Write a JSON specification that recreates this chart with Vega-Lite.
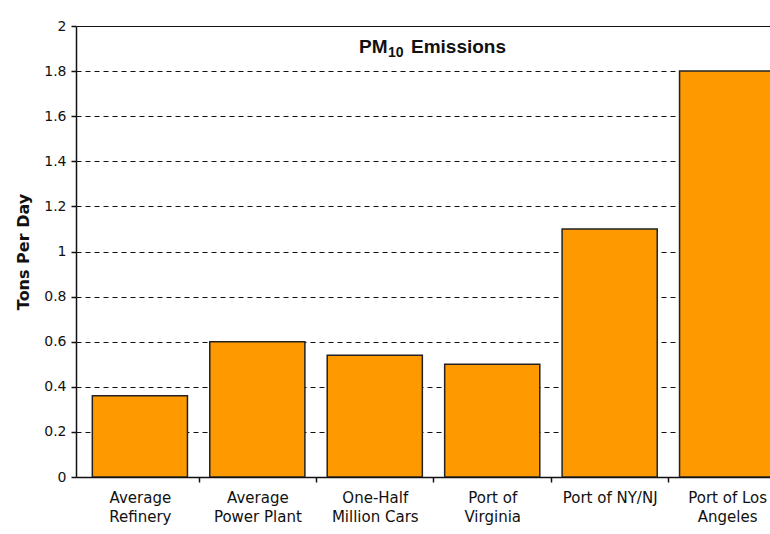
{
  "$schema": "https://vega.github.io/schema/vega-lite/v6.json",
  "autosize": {"type": "none"},
  "padding": {"left": 76, "top": 26, "right": 0, "bottom": 57},
  "width": 694,
  "height": 451,
  "background": "white",
  "config": {
    "view": {"stroke": null},
    "axis": {"labelFont": "DejaVu Sans", "titleFont": "DejaVu Sans", "labelColor": "#111", "titleColor": "#111", "domainColor": "#111", "tickColor": "#111"}
  },
  "layer": [
    {
      "data": {
        "values": [
          {"source": "Average|Refinery", "tons": 0.36},
          {"source": "Average|Power Plant", "tons": 0.6},
          {"source": "One-Half|Million Cars", "tons": 0.54},
          {"source": "Port of|Virginia", "tons": 0.5},
          {"source": "Port of NY/NJ", "tons": 1.1},
          {"source": "Port of Los|Angeles", "tons": 1.8}
        ]
      },
      "mark": {"type": "bar", "color": "#FF9900", "stroke": "#222", "strokeWidth": 1.5, "clip": true},
      "encoding": {
        "x": {
          "field": "source",
          "type": "nominal",
          "sort": null,
          "scale": {"range": [0, 715], "paddingInner": 0.19, "paddingOuter": 0.139},
          "axis": {
            "title": null,
            "labelAngle": 0,
            "labelExpr": "split(datum.label, '|')",
            "labelFontSize": 15,
            "labelLineHeight": 19,
            "labelPadding": 8,
            "labelOffset": -58.7,
            "tickSize": 5,
            "tickOffset": 58.7,
            "domainWidth": 1.5,
            "tickWidth": 1.5,
            "grid": false
          }
        },
        "y": {
          "field": "tons",
          "type": "quantitative",
          "scale": {"domain": [0, 2], "nice": false},
          "axis": {
            "title": "Tons Per Day",
            "titleFontSize": 16,
            "titleFontWeight": "bold",
            "titlePadding": 12,
            "values": [0, 0.2, 0.4, 0.6, 0.8, 1, 1.2, 1.4, 1.6, 1.8, 2],
            "format": "~g",
            "labelFontSize": 14,
            "labelPadding": 5,
            "tickSize": 5,
            "domainWidth": 1.5,
            "tickWidth": 1.5,
            "grid": true,
            "gridColor": "#111",
            "gridOpacity": 1,
            "gridWidth": 1,
            "gridDash": {"condition": {"test": "datum.value == 2", "value": []}, "value": [5, 4]}
          }
        }
      }
    },
    {
      "data": {"values": [{"t": "PM"}]},
      "mark": {"type": "text", "font": "Liberation Sans", "fontSize": 19, "fontWeight": "bold", "color": "#111", "align": "left", "baseline": "alphabetic", "dx": -64, "dy": 26.5},
      "encoding": {"y": {"datum": 2, "type": "quantitative"}, "text": {"field": "t"}}
    },
    {
      "data": {"values": [{"t": "10"}]},
      "mark": {"type": "text", "font": "Liberation Sans", "fontSize": 14, "fontWeight": "bold", "color": "#111", "align": "left", "baseline": "alphabetic", "dx": -35, "dy": 31},
      "encoding": {"y": {"datum": 2, "type": "quantitative"}, "text": {"field": "t"}}
    },
    {
      "data": {"values": [{"t": "Emissions"}]},
      "mark": {"type": "text", "font": "Liberation Sans", "fontSize": 19, "fontWeight": "bold", "color": "#111", "align": "left", "baseline": "alphabetic", "dx": -12, "dy": 26.5},
      "encoding": {"y": {"datum": 2, "type": "quantitative"}, "text": {"field": "t"}}
    }
  ]
}
